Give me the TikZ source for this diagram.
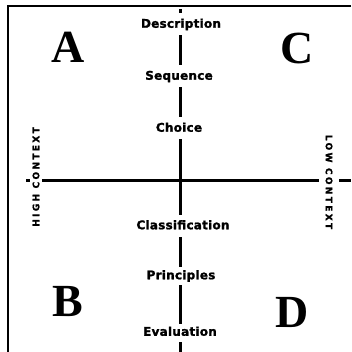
\documentclass[tikz,border=0pt]{standalone}
\usepackage{fontspec}
\newfontfamily\stagefont{DejaVu Sans Bold}[LetterSpace=2, FakeBold=1.5]
\newfontfamily\contextfont{DejaVu Sans Bold}[LetterSpace=26, FakeBold=1.5]
\newfontfamily\quadfont{Liberation Serif}

\begin{document}
\begin{tikzpicture}[x=1pt, y=-1pt,
    axis/.style={line width=3pt},
    frame/.style={line width=1.5pt},
    stage/.style={fill=white, inner sep=0pt, minimum height=22pt, text height=9pt, text depth=2.5pt,
        font=\stagefont\fontsize{12pt}{14pt}\selectfont},
    context/.style={fill=white, inner xsep=0pt, text height=6.5pt, text depth=0pt,
        font=\contextfont\fontsize{9pt}{11pt}\selectfont},
    quadrant/.style={inner sep=0pt, font=\quadfont\bfseries\fontsize{46pt}{50pt}\selectfont}]
    \useasboundingbox (0,0) rectangle (351,352);

    \draw[frame] (351,6) -- (8,6) -- (8,352);

    \coordinate (top) at (180,9);
    \coordinate (bottom) at (180,352);
    \coordinate (left) at (26,181);
    \coordinate (right) at (351,181);
    \draw[axis] (top) -- (bottom);
    \draw[axis] (left) -- (right);

    \node[stage] (description) at (181,24.5) {Description};
    \node[stage] (sequence) at (179,76.5) {Sequence};
    \node[stage] (choice) at (179,128.5) {Choice};
    \node[stage] (classification) at (183,226) {Classification};
    \node[stage, minimum height=18pt] (principles) at (181,276) {Principles};
    \node[stage, minimum height=18pt] (evaluation) at (180,332.5) {Evaluation};

    \node[context, rotate=90, inner ysep=3pt] (high) at (36,177) {HIGH CONTEXT};
    \node[context, rotate=-90, inner ysep=7pt] (low) at (329,182) {LOW CONTEXT};

    \node[quadrant] (qa) at (68,47) {A};
    \node[quadrant] (qc) at (297,48) {C};
    \node[quadrant] (qb) at (68,302) {B};
    \node[quadrant] (qd) at (292,312) {D};
\end{tikzpicture}
\end{document}
